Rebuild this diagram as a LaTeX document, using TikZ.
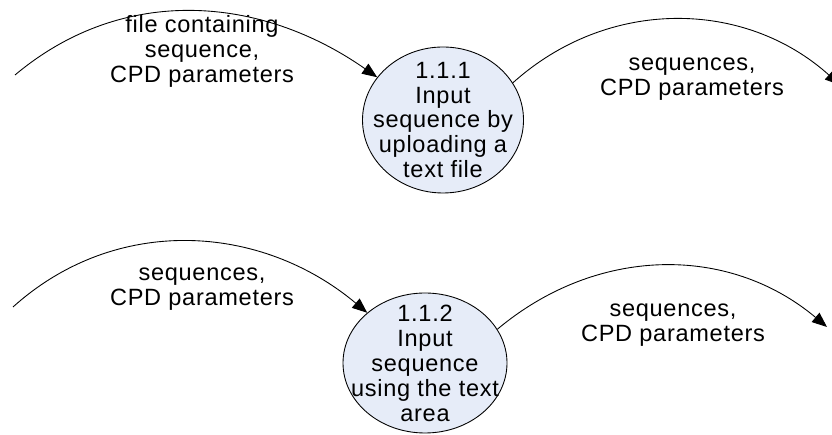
\documentclass[tikz,border=0pt]{standalone}
\usepackage{fontspec}
\setmainfont{Liberation Sans}[LetterSpace=3]
\usetikzlibrary{shapes.geometric,arrows.meta}
\definecolor{procfill}{RGB}{230,236,248}
\begin{document}
\begin{tikzpicture}[
    proc/.style={draw, ellipse, fill=procfill, line width=0.5pt, inner sep=0pt},
    txt/.style={align=center, font=\fontsize{13.4}{14.2}\selectfont, inner sep=0pt},
    flow/.style={-{Triangle[length=0.3cm,width=0.24cm]}, line width=0.5pt}
  ]
  \useasboundingbox (0,0) rectangle (16.64,8.70);
  \clip (0,0) rectangle (16.64,8.70);

  \node [proc, minimum width=3.22cm, minimum height=2.92cm] (p1) at (8.86,6.30) {};
  \node [txt] (t1) at (p1) {1.1.1\\Input\\sequence by\\uploading a\\text file};
  \node [proc, minimum width=3.28cm, minimum height=2.8cm] (p2) at (8.50,1.44) {};
  \node [txt] (t2) at (p2) {1.1.2\\Input\\sequence\\using the text\\area};

  \coordinate (in1) at (0.30,7.20);
  \coordinate (out1) at (16.80,7.00);
  \coordinate (in2) at (0.26,2.56);
  \coordinate (out2) at (16.54,2.16);

  \draw [flow] (in1) to [out=40, in=145] (p1.147);
  \draw [flow] (p1.28) to [out=42, in=138] (out1);
  \draw [flow] (in2) to [out=42, in=140] (p2.139);
  \draw [flow] (p2.25) to [out=40, in=140] (out2);

  \node [txt] (l1) at (4.04,7.67) {file containing\\sequence,\\CPD parameters};
  \node [txt] (l2) at (13.84,7.12) {sequences,\\CPD parameters};
  \node [txt] (l3) at (4.04,2.92) {sequences,\\CPD parameters};
  \node [txt] (l4) at (13.46,2.20) {sequences,\\CPD parameters};
\end{tikzpicture}
\end{document}
